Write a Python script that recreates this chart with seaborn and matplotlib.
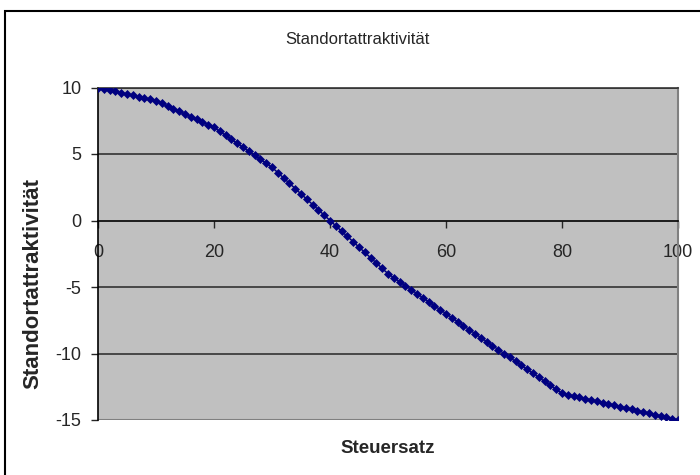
import numpy as np
import pandas as pd
import matplotlib
matplotlib.use("Agg")
import matplotlib.pyplot as plt
from matplotlib.patches import Rectangle
import seaborn as sns

# Steuersatz 0..100 (one point per percent)
steuersatz = list(range(0, 101))
attraktivitaet = [
    10.0, 9.9, 9.8, 9.7, 9.6, 9.5, 9.4, 9.3, 9.2, 9.1,
    9.0, 8.8, 8.6, 8.4, 8.2, 8.0, 7.8, 7.6, 7.4, 7.2,
    7.0, 6.7, 6.4, 6.1, 5.8, 5.5, 5.2, 4.9, 4.6, 4.3,
    4.0, 3.6, 3.2, 2.8, 2.4, 2.0, 1.6, 1.2, 0.8, 0.4,
    0.0, -0.4, -0.8, -1.2, -1.6, -2.0, -2.4, -2.8, -3.2, -3.6,
    -4.0, -4.3, -4.6, -4.9, -5.2, -5.5, -5.8, -6.1, -6.4, -6.7,
    -7.0, -7.3, -7.6, -7.9, -8.2, -8.5, -8.8, -9.1, -9.4, -9.7,
    -10.0, -10.3, -10.6, -10.9, -11.2, -11.5, -11.8, -12.1, -12.4, -12.7,
    -13.0, -13.1, -13.2, -13.3, -13.4, -13.5, -13.6, -13.7, -13.8, -13.9,
    -14.0, -14.1, -14.2, -14.3, -14.4, -14.5, -14.6, -14.7, -14.8, -14.9,
    -15.0,
]
x_ticks = [0, 20, 40, 60, 80, 100]
y_ticks = [-15, -10, -5, 0, 5, 10]

df = pd.DataFrame({"Steuersatz": steuersatz, "Standortattraktivität": attraktivitaet})

sns.set_style("ticks")
plt.rcParams["font.family"] = ["Liberation Sans", "DejaVu Sans"]
plt.rcParams["axes.unicode_minus"] = False

fig = plt.figure(figsize=(7, 4.75), dpi=100)
ax = fig.add_axes([98 / 700, 1 - 420 / 475, 580 / 700, 332.5 / 475])
ax.set_facecolor("#C0C0C0")

# horizontal gridlines
for yv in [10, 5, -5, -10]:
    ax.axhline(yv, color="#333333", lw=1.2, zorder=1)
ax.axhline(-15, color="#808080", lw=1.5, zorder=1)

sns.lineplot(data=df, x="Steuersatz", y="Standortattraktivität", ax=ax,
             color="#000080", lw=1.1, marker="D", markersize=4.3,
             markeredgecolor="#000080", markeredgewidth=0.5, zorder=3)

ax.set_xlim(0, 100)
ax.set_ylim(-15, 10)
ax.set_xticks(x_ticks)
ax.set_yticks(y_ticks)

ax.spines["bottom"].set_position(("data", 0))
ax.spines["bottom"].set_color("black")
ax.spines["left"].set_color("black")
ax.spines["right"].set_color("#808080")
ax.spines["top"].set_color("#333333")
for s in ax.spines.values():
    s.set_linewidth(1.2)
ax.spines["right"].set_linewidth(1.5)

ax.tick_params(axis="x", direction="out", length=5, width=1, pad=12, labelsize=13)
ax.tick_params(axis="y", direction="out", length=5, width=1, pad=7, labelsize=13)

ax.set_xlabel("Steuersatz", fontsize=13.5, fontweight="bold")
ax.set_ylabel("Standortattraktivität", fontsize=16, fontweight="bold")
ax.xaxis.set_label_coords(0.5, -0.06)
ax.yaxis.set_label_coords(-0.095, 0.41)

fig.text(0.51, 1 - 40 / 475, "Standortattraktivität", ha="center", va="center", fontsize=12)

# chart frame
fig.patches.append(Rectangle((5 / 700, -0.05), 1.2, 1 - 11 / 475 + 0.05,
                             transform=fig.transFigure, fill=False,
                             edgecolor="black", lw=1.5))

fig.savefig("out.png", dpi=100)
